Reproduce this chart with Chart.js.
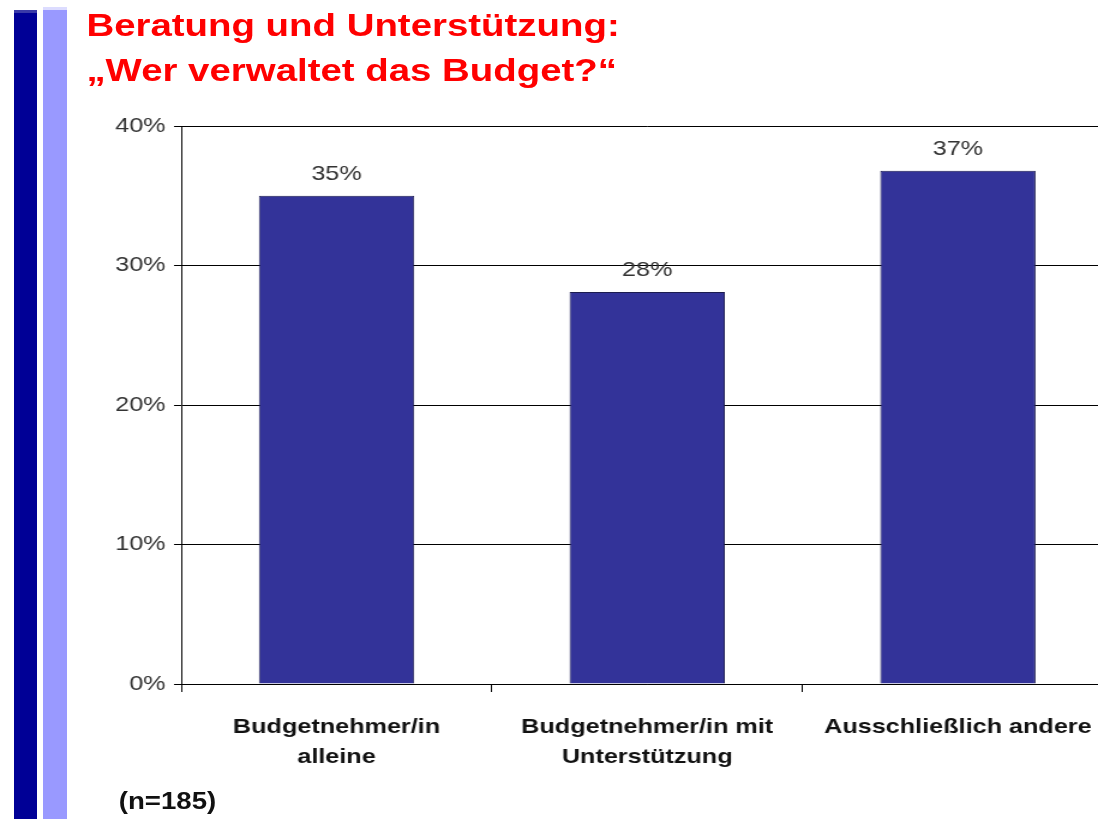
<!DOCTYPE html>
<html>
<head>
<meta charset="utf-8">
<script src="https://cdn.jsdelivr.net/npm/chart.js@4/dist/chart.umd.min.js"></script>
<style>
  body { margin: 0; background: #fff; overflow: hidden; width: 1098px; height: 819px; position: relative; }
  /* the slide is stretched sideways, so everything is drawn narrow and scaled by 1.2 */
  #stage { position: absolute; left: 0; top: 0; width: 930px; height: 819px; transform: scaleX(1.2); transform-origin: 0 0; }
  #title { position: absolute; left: 72px; top: 3px; font: bold 32px "Liberation Sans", Arial, sans-serif; line-height: 45px; color: #ff0000; white-space: nowrap; }
  #note { position: absolute; left: 99px; top: 790px; font: bold 23px "Liberation Sans", Arial, sans-serif; line-height: 23px; color: #111; }
  #chart { position: absolute; left: 0; top: 0; width: 930px; height: 819px; }
  .stripe { position: absolute; bottom: 0; }
  #darkStripe { left: 14px; top: 10px; width: 23px; background: linear-gradient(#3a3aa8 0, #3a3aa8 3px, #000096 3px); }
  #lightStripe { left: 43px; top: 7px; width: 24px; background: linear-gradient(#dcdcff 0, #dcdcff 3px, #9999ff 3px); }
</style>
</head>
<body>
<div class="stripe" id="darkStripe"></div>
<div class="stripe" id="lightStripe"></div>
<div id="stage">
  <div id="title">Beratung und Unterstützung:<br>„Wer verwaltet das Budget?“</div>
  <canvas id="chart" width="930" height="819"></canvas>
  <div id="note">(n=185)</div>
</div>
<script>
// values
const categories = [["Budgetnehmer/in", "alleine"], ["Budgetnehmer/in mit", "Unterstützung"], ["Ausschließlich andere"]];
const shares = [35.0, 28.1, 36.8];
const yMax = 40;
const yStep = 10;

const fontName = '"Liberation Sans", Arial, sans-serif';

// draws the "35%" style labels above each bar
const valueLabels = {
    id: 'valueLabels',
    afterDatasetsDraw(chart) {
        const ctx = chart.ctx;
        const meta = chart.getDatasetMeta(0);
        ctx.save();
        ctx.font = '21px ' + fontName;
        ctx.fillStyle = '#333333';
        ctx.textAlign = 'center';
        ctx.textBaseline = 'alphabetic';
        meta.data.forEach((bar, i) => {
            ctx.fillText(Math.round(shares[i]) + '%', bar.x, bar.y - 16);
        });
        ctx.restore();
    }
};

const data = {
    labels: categories,
    datasets: [{
        data: shares,
        backgroundColor: '#333399',
        borderColor: '#1c1c50',
        borderWidth: 1,
        barPercentage: 0.5,
        categoryPercentage: 1
    }]
};

const config = {
    type: 'bar',
    data,
    options: {
        responsive: false,
        animation: false,
        devicePixelRatio: 1,
        layout: {
            padding: { left: 0, top: 126, right: 2, bottom: 0 }
        },
        plugins: {
            legend: { display: false },
            tooltip: { enabled: false }
        },
        scales: {
            x: {
                offset: true,
                grid: {
                    offset: true,
                    drawOnChartArea: false,
                    drawTicks: true,
                    tickLength: 8,
                    color: '#000'
                },
                border: { display: true, color: '#000', width: 1 },
                ticks: {
                    color: '#111',
                    padding: 20,
                    maxRotation: 0,
                    autoSkip: false,
                    font: { family: fontName, size: 21, weight: 'bold', lineHeight: 1.43 }
                },
                afterFit(scale) { scale.height = 135; }
            },
            y: {
                min: 0,
                max: yMax,
                grid: {
                    color: '#000',
                    lineWidth: 1,
                    drawTicks: true,
                    tickLength: 6
                },
                border: { display: true, color: '#000', width: 1 },
                ticks: {
                    stepSize: yStep,
                    color: '#333',
                    padding: 7,
                    font: { family: fontName, size: 21 },
                    callback: function(v) { return v + '%'; }
                },
                afterFit(scale) { scale.width = 151; }
            }
        }
    },
    plugins: [valueLabels]
};

let chart = new Chart(document.getElementById('chart'), config);
</script>
</body>
</html>
